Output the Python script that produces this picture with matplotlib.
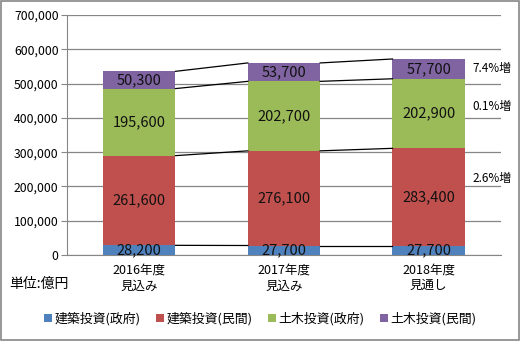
import matplotlib
matplotlib.use("Agg")
import matplotlib.pyplot as plt
from matplotlib.patches import Rectangle
from matplotlib.ticker import FuncFormatter

plt.rcParams['font.family'] = ['Noto Sans CJK JP', 'DejaVu Sans']

categories = ["2016年度\n見込み", "2017年度\n見込み", "2018年度\n見通し"]
series_names = ["建築投資(政府)", "建築投資(民間)", "土木投資(政府)", "土木投資(民間)"]
kenchiku_gov = [28200, 27700, 27700]
kenchiku_priv = [261600, 276100, 283400]
doboku_gov = [195600, 202700, 202900]
doboku_priv = [50300, 53700, 57700]
growth_labels = ["7.4%増", "0.1%増", "2.6%増"]
colors = ["#4F81BD", "#C0504D", "#9BBB59", "#8064A2"]

series = [kenchiku_gov, kenchiku_priv, doboku_gov, doboku_priv]

fig = plt.figure(figsize=(5.21, 3.41), dpi=100)
ax = fig.add_axes([0.1286, 0.2522, 0.8330, 0.7038])

x = list(range(len(categories)))
width = 0.5
bottoms = [0, 0, 0]
tops_per_series = []
for vals, col, name in zip(series, colors, series_names):
    ax.bar(x, vals, width, bottom=bottoms, color=col, label=name, zorder=3)
    for i, v in enumerate(vals):
        ax.text(x[i], bottoms[i] + v / 2, f"{v:,}", ha="center", va="center",
                fontsize=10.5, color="#111111", zorder=5)
    bottoms = [b + v for b, v in zip(bottoms, vals)]
    tops_per_series.append(list(bottoms))

# series lines linking the segment tops of neighbouring bars
for tops in tops_per_series:
    for i in range(len(x) - 1):
        ax.plot([x[i] + width / 2, x[i + 1] - width / 2], [tops[i], tops[i + 1]],
                color="black", lw=0.9, zorder=4)

ax.set_xlim(-0.5, 2.5)
ax.set_ylim(0, 700000)
ax.set_yticks(range(0, 700001, 100000))
ax.yaxis.set_major_formatter(FuncFormatter(lambda v, p: f"{int(v):,}"))
ax.set_xticks(x)
ax.set_xticklabels(categories, fontsize=9, linespacing=1.3)
ax.tick_params(axis="y", labelsize=8.8, length=4, color="#868686", pad=2)
ax.tick_params(axis="x", length=0, pad=6)
ax.grid(axis="y", color="#868686", lw=0.9, zorder=0)
for s in ["top", "right"]:
    ax.spines[s].set_visible(False)
ax.spines["left"].set_color("#868686")
ax.spines["bottom"].set_color("#868686")

# growth rate notes beside the last bar
for lab, yv in zip(growth_labels, [543000, 432000, 224000]):
    ax.text(2.3, yv, lab, ha="left", va="center", fontsize=8.5, color="black",
            zorder=5)

fig.text(0.018, 0.168, "単位:億円", fontsize=10, ha="left", va="center")

leg = fig.legend(loc="center", bbox_to_anchor=(0.5, 0.066), ncol=4, frameon=False,
                 fontsize=9.3, handlelength=0.6, handleheight=0.6,
                 handletextpad=0.2, columnspacing=1.2)

fig.patches.append(Rectangle((0.002, 0.003), 0.994, 0.993, transform=fig.transFigure,
                             fill=False, edgecolor="#868686", lw=1.2))

fig.savefig("out.png", dpi=100)
